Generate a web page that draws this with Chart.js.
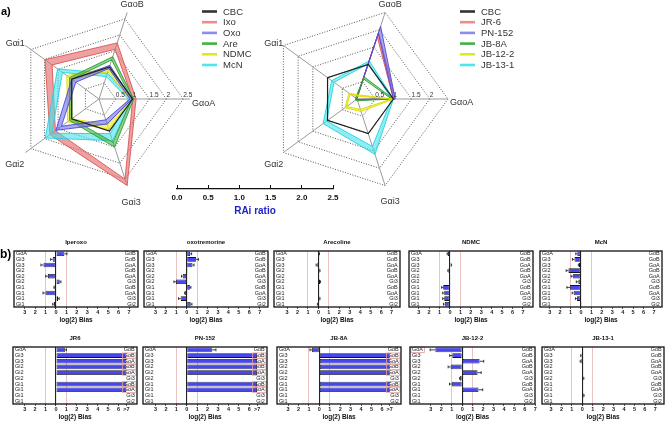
<!DOCTYPE html>
<html><head><meta charset="utf-8">
<script src="https://cdn.jsdelivr.net/npm/chart.js@4.4.1/dist/chart.umd.min.js"></script>
<style>
html,body{margin:0;padding:0;background:#fff;}
#wrap{position:relative;width:669px;height:423px;overflow:hidden;}
canvas{position:absolute;}
</style></head><body><div id="wrap"></div>
<script>
// ---------- DATA ----------
// radar axes, clockwise from the right-hand axis
const radarAxes = ['GαoA', 'Gαi3', 'Gαi2', 'Gαi1', 'GαoB'];
const radar1Ticks = [0.5, 1, 1.5, 2, 2.5];
const radar2Ticks = [0.5, 1, 1.5, 2];

const cbc = [1, 1, 1, 1, 1];
const ixoLow  = [1.00, 2.50, 1.60, 1.72, 1.55];
const ixoHigh = [1.10, 2.70, 1.80, 1.98, 1.75];
const oxoLow  = [0.92, 0.65, 1.38, 0.85, 0.95];
const oxoHigh = [0.98, 0.78, 1.58, 1.00, 1.05];
const areLow  = [0.97, 1.35, 1.00, 1.00, 1.22];
const areHigh = [1.03, 1.50, 1.08, 1.08, 1.32];
const ndmcLow  = [0.92, 0.80, 1.00, 1.00, 0.85];
const ndmcHigh = [0.98, 0.95, 1.15, 1.18, 0.95];
const mcnLow  = [0.87, 1.08, 1.73, 1.34, 0.70];
const mcnHigh = [0.98, 1.30, 1.97, 1.52, 0.80];

const jr6Low  = [1.00, 0.01, 0.01, 0.01, 1.80];
const jr6High = [1.05, 0.02, 0.02, 0.02, 1.92];
const pn152Low  = [1.00, 0.01, 0.01, 0.01, 1.90];
const pn152High = [1.05, 0.02, 0.02, 0.02, 2.10];
const jb8aLow  = [0.95, 0.02, 0.02, 0.02, 0.58];
const jb8aHigh = [1.00, 0.05, 0.05, 0.05, 0.64];
const jb122Low  = [0.95, 0.30, 0.35, 0.23, 0.08];
const jb122High = [1.00, 0.36, 0.41, 0.27, 0.12];
const jb131Low  = [0.95, 1.37, 1.03, 0.78, 1.02];
const jb131High = [1.00, 1.60, 1.15, 0.86, 1.10];

const raiTicks = [0, 0.5, 1, 1.5, 2, 2.5];

const leftLabels  = ['GoA', 'Gi3', 'Gi3', 'Gi2', 'Gi2', 'Gi2', 'Gi1', 'Gi1', 'Gi1', 'Gi1'];
const rightLabels = ['GoB', 'GoB', 'GoA', 'GoB', 'GoA', 'Gi3', 'GoB', 'GoA', 'Gi3', 'Gi2'];
const biasTicks = [-3, -2, -1, 0, 1, 2, 3, 4, 5, 6, 7];
const biasTickLabels = ['3', '2', '1', '0', '1', '2', '3', '4', '5', '6', '7'];
const satTicks = [-3, -2, -1, 0, 1, 2, 3, 4, 5, 6, 6.75];
const satTickLabels = ['3', '2', '1', '0', '1', '2', '3', '4', '5', '6', '>7'];

const iperoxoBias = [0.80, -0.32, -1.20, -0.03, -0.77, 0.35, -0.15, -1.00, 0.20, -0.22];
const iperoxoErr  = [0.25, 0.20, 0.25, 0.00, 0.22, 0.12, 0.05, 0.25, 0.10, 0.10];
const oxoBias = [0.32, 0.90, 0.55, 0.02, -0.38, -1.03, 0.30, -0.15, -0.58, 0.38];
const oxoErr  = [0.15, 0.22, 0.15, 0.00, 0.12, 0.20, 0.10, 0.05, 0.20, 0.12];
const areBias = [0.05, 0.00, -0.12, 0.10, 0.02, 0.15, 0.00, 0.02, 0.10, -0.05];
const areErr  = [0.05, 0.00, 0.10, 0.05, 0.00, 0.05, 0.00, 0.00, 0.05, 0.05];
const ndmcBias = [-0.22, 0.00, 0.10, -0.15, 0.00, 0.00, -0.65, -0.55, -0.55, -0.50];
const ndmcErr  = [0.05, 0.00, 0.05, 0.05, 0.00, 0.00, 0.15, 0.15, 0.15, 0.12];
const mcnBias = [-0.35, -0.62, -0.20, -1.20, -0.75, -0.25, -1.05, -0.70, -0.38, 0.08];
const mcnErr  = [0.15, 0.20, 0.05, 0.22, 0.20, 0.20, 0.30, 0.15, 0.15, 0.00];
const jr6Bias = [0.85, 6.75, 6.75, 6.75, 6.75, 0, 6.75, 6.75, 0, 0];
const jr6Err  = [0.15, 0, 0, 0, 0, 0, 0, 0, 0, 0];
const pn152Bias = [2.40, 6.75, 6.75, 6.75, 6.75, 0, 6.75, 6.75, 0, 0];
const pn152Err  = [0.40, 0, 0, 0, 0, 0, 0, 0, 0, 0];
const jb8aBias = [-0.70, 6.75, 6.75, 6.75, 6.75, 0, 6.75, 6.75, 0, 0];
const jb8aErr  = [0.20, 0, 0, 0, 0, 0, 0, 0, 0, 0];
const jb122Bias = [-2.57, -0.95, 1.66, -1.10, 1.47, -0.20, -0.97, 1.56, 0.05, 0.05];
const jb122Err  = [0.50, 0.25, 0.40, 0.25, 0.35, 0.05, 0.25, 0.40, 0.00, 0.00];
const jb131Bias = [0.00, -0.10, -0.15, -0.05, 0.00, 0.10, 0.00, 0.00, 0.12, 0.00];
const jb131Err  = [0.00, 0.05, 0.05, 0.00, 0.00, 0.05, 0.00, 0.00, 0.05, 0.00];

// ---------- SETUP ----------
const FONT = '"Liberation Sans", Arial, sans-serif';
Chart.defaults.font.family = FONT;
Chart.defaults.color = '#222';
const wrap = document.getElementById('wrap');
function mkCanvas(x, y, w, h) {
  const c = document.createElement('canvas');
  c.width = w; c.height = h;
  c.style.left = x + 'px'; c.style.top = y + 'px';
  c.style.width = w + 'px'; c.style.height = h + 'px';
  wrap.appendChild(c);
  return c;
}

const COL = {
  black: '#1e1e1e',
  red: ['#dd5555', 'rgba(228,110,110,0.65)'],
  blue: ['#4a4ad8', 'rgba(110,110,235,0.6)'],
  green: ['#2f9f2f', 'rgba(70,175,70,0.6)'],
  yellow: ['#dada00', 'rgba(240,240,50,0.7)'],
  cyan: ['#22d4e0', 'rgba(70,225,235,0.6)']
};

// ---------- RADAR ----------
const radarDeco = {
  id: 'radarDeco',
  afterDraw(chart, args, o) {
    const s = chart.scales.r, ctx = chart.ctx;
    ctx.save();
    ctx.fillStyle = '#333';
    ctx.font = '6.5px ' + FONT;
    ctx.textAlign = 'left'; ctx.textBaseline = 'bottom';
    o.tickLabels.forEach(v => {
      const p = s.getPointPositionForValue(0, v);
      ctx.fillText(String(v), p.x, p.y - 0.5);
    });
    ctx.font = '9px ' + FONT;
    ctx.textBaseline = 'middle';
    chart.data.labels.forEach((lab, i) => {
      const p = s.getPointPosition(i, s.drawingArea);
      const pl = o.labelPlace[i];
      ctx.textAlign = pl[2];
      ctx.fillText(lab, p.x + pl[0], p.y + pl[1]);
    });
    // legend
    ctx.font = '9.5px ' + FONT;
    ctx.textAlign = 'left';
    o.legend.forEach((it, i) => {
      const y = o.legendY + i * o.legendStep;
      ctx.strokeStyle = it.color; ctx.lineWidth = 2.6;
      ctx.beginPath(); ctx.moveTo(o.legendX, y); ctx.lineTo(o.legendX + 15, y); ctx.stroke();
      ctx.fillStyle = '#333';
      ctx.fillText(it.text, o.legendX + 21, y + 0.5);
    });
    if (o.tag) {
      ctx.font = 'bold 11px ' + FONT; ctx.fillStyle = '#000';
      ctx.textAlign = 'left'; ctx.textBaseline = 'alphabetic';
      ctx.fillText(o.tag, o.tagX, o.tagY);
    }
    ctx.restore();
  }
};

function band(label, low, high, col, order) {
  return [
    {label: label + ' low', data: low, borderColor: col[0], borderWidth: 0.9, fill: false, pointRadius: 0, order: order},
    {label: label, data: high, borderColor: col[0], borderWidth: 0.9, backgroundColor: col[1], fill: '-1', pointRadius: 0, order: order}
  ];
}

function makeRadar(cfg) {
  const c = mkCanvas(cfg.x, cfg.y, cfg.w, cfg.h);
  const rings = [0].concat(cfg.rings);
  if (rings[rings.length - 1] !== cfg.max) rings.push(cfg.max);
  new Chart(c, {
    type: 'radar',
    data: {labels: radarAxes, datasets: cfg.datasets},
    options: {
      responsive: false, animation: false, events: [],
      layout: {padding: cfg.padding},
      elements: {line: {tension: 0}},
      plugins: {legend: {display: false}, tooltip: {enabled: false}, radarDeco: cfg.deco},
      scales: {
        r: {
          min: 0, max: cfg.max, startAngle: 90,
          afterBuildTicks: s => { s.ticks = rings.map(v => ({value: v})); },
          ticks: {display: false},
          pointLabels: {display: false},
          grid: {
            color: ctx => (cfg.rings.indexOf(ctx.tick.value) >= 0 ? '#444' : 'rgba(0,0,0,0)'),
            lineWidth: 0.9
          },
          border: {dash: [1, 1.6]},
          angleLines: {color: '#9a9a9a', lineWidth: 1}
        }
      }
    },
    plugins: [radarDeco]
  });
}

makeRadar({
  x: 0, y: 0, w: 260, h: 215, max: 2.7, rings: radar1Ticks,
  padding: {left: 8, top: 8, right: 70, bottom: 25},
  datasets: [{label: 'CBC', data: cbc, borderColor: COL.black, borderWidth: 1.2, fill: false, pointRadius: 0, order: 0}]
    .concat(band('Oxo', oxoLow, oxoHigh, COL.blue, 1))
    .concat(band('NDMC', ndmcLow, ndmcHigh, COL.yellow, 3))
    .concat(band('Are', areLow, areHigh, COL.green, 2))
    .concat(band('McN', mcnLow, mcnHigh, COL.cyan, 4))
    .concat(band('Ixo', ixoLow, ixoHigh, COL.red, 5)),
  deco: {
    tickLabels: radar1Ticks,
    labelPlace: [[2, 4.5, 'left'], [4, 16.5, 'center'], [-1, 12.5, 'right'], [-0.5, -2, 'right'], [5, -8, 'center']],
    legendX: 202, legendY: 11.5, legendStep: 10.7,
    legend: [
      {text: 'CBC', color: '#333'}, {text: 'Ixo', color: '#ee8c8c'}, {text: 'Oxo', color: '#8c8cee'},
      {text: 'Are', color: '#44b044'}, {text: 'NDMC', color: '#e6e620'}, {text: 'McN', color: '#50e4ee'}
    ],
    tag: 'a)', tagX: 1, tagY: 15
  }
});

makeRadar({
  x: 260, y: 0, w: 260, h: 215, max: 2.5, rings: radar2Ticks.concat([2.5]),
  padding: {left: 6, top: 8, right: 72, bottom: 25},
  datasets: [{label: 'CBC', data: cbc, borderColor: COL.black, borderWidth: 1.2, fill: false, pointRadius: 0, order: 0}]
    .concat(band('JB-12-2', jb122Low, jb122High, COL.yellow, 1))
    .concat(band('JB-8A', jb8aLow, jb8aHigh, COL.green, 2))
    .concat(band('PN-152', pn152Low, pn152High, COL.blue, 3))
    .concat(band('JR-6', jr6Low, jr6High, COL.red, 4))
    .concat(band('JB-13-1', jb131Low, jb131High, COL.cyan, 5)),
  deco: {
    tickLabels: radar2Ticks,
    labelPlace: [[2, 4, 'left'], [5, 16, 'center'], [0, 12.5, 'right'], [0, -2, 'right'], [5, -7.5, 'center']],
    legendX: 200, legendY: 11.5, legendStep: 10.7,
    legend: [
      {text: 'CBC', color: '#333'}, {text: 'JR-6', color: '#ee8c8c'}, {text: 'PN-152', color: '#8c8cee'},
      {text: 'JB-8A', color: '#44b044'}, {text: 'JB-12-2', color: '#e6e620'}, {text: 'JB-13-1', color: '#50e4ee'}
    ]
  }
});

// ---------- RAi ratio axis ----------
(function () {
  const c = mkCanvas(150, 170, 200, 50);
  new Chart(c, {
    type: 'scatter',
    data: {datasets: []},
    options: {
      responsive: false, animation: false, events: [],
      layout: {padding: {left: 27, right: 17, top: 15, bottom: 1}},
      plugins: {legend: {display: false}, tooltip: {enabled: false}},
      scales: {
        x: {
          type: 'linear', min: 0, max: 2.5,
          afterBuildTicks: s => { s.ticks = raiTicks.map(v => ({value: v})); },
          ticks: {callback: v => v.toFixed(1), font: {size: 8, weight: 'bold'}, color: '#111', padding: 4, maxRotation: 0, autoSkip: false},
          grid: {drawOnChartArea: true, drawTicks: false, color: '#111', lineWidth: 1},
          border: {display: true, color: '#111', width: 1.3},
          title: {display: true, text: 'RAi ratio', color: '#2323c8', font: {size: 10, weight: 'bold'}, padding: {top: 2, bottom: 2}},
          afterFit: s => { s.height = 30; }
        },
        y: {display: false, min: 0, max: 1}
      }
    }
  });
})();

// ---------- BIAS BAR PANELS ----------
const biasDeco = {
  id: 'biasDeco',
  afterDraw(chart, args, o) {
    const {ctx, chartArea: a, scales} = chart;
    const x = scales.x, y = scales.y;
    const vals = chart.data.datasets[0].data;
    ctx.save();
    // error bars
    ctx.strokeStyle = '#111'; ctx.lineWidth = 0.8;
    vals.forEach((v, i) => {
      const e = o.errors[i];
      if (!e) return;
      const yc = y.getPixelForValue(i);
      const x0 = x.getPixelForValue(v);
      const x1 = x.getPixelForValue(v + (v >= 0 ? e : -e));
      ctx.beginPath(); ctx.moveTo(x0, yc); ctx.lineTo(x1, yc);
      ctx.moveTo(x1, yc - 1.4); ctx.lineTo(x1, yc + 1.4); ctx.stroke();
    });
    // pink label boxes
    ctx.strokeStyle = '#e4a0a0'; ctx.lineWidth = 0.8;
    ctx.font = '5.5px ' + FONT;
    (o.pinkRight || []).forEach(i => {
      const yc = y.getPixelForValue(i);
      const w = ctx.measureText(rightLabels[i]).width;
      ctx.strokeRect(a.right - w - 3.5, yc - 2.6, w + 2.4, 5.2);
    });
    (o.pinkLeft || []).forEach(i => {
      const yc = y.getPixelForValue(i);
      const w = ctx.measureText(leftLabels[i]).width;
      ctx.strokeRect(a.left + 1, yc - 2.6, w + 2.4, 5.2);
    });
    // frame
    ctx.strokeStyle = '#111'; ctx.lineWidth = 1.3;
    ctx.strokeRect(a.left, a.top, a.right - a.left, a.bottom - a.top);
    // title
    ctx.fillStyle = '#111';
    ctx.font = 'bold 6px ' + FONT;
    ctx.textAlign = 'center'; ctx.textBaseline = 'middle';
    ctx.fillText(o.title, (a.left + a.right) / 2, a.top - 8.5);
    if (o.tag) {
      ctx.font = 'bold 12px ' + FONT; ctx.fillStyle = '#000';
      ctx.textAlign = 'left'; ctx.textBaseline = 'alphabetic';
      ctx.fillText(o.tag, o.tagX, o.tagY);
    }
    ctx.restore();
  }
};

const PANELS = [
  {title: 'Iperoxo', values: iperoxoBias, errors: iperoxoErr, box: [14, 251, 124, 56], min: -4.03, max: 7.86, sat: false, tag: 'b)'},
  {title: 'oxotremorine', values: oxoBias, errors: oxoErr, box: [144, 251, 124, 56], min: -4.1, max: 7.8, sat: false},
  {title: 'Arecoline', values: areBias, errors: areErr, box: [274, 251, 126, 56], min: -4.25, max: 7.8, sat: false},
  {title: 'NDMC', values: ndmcBias, errors: ndmcErr, box: [409, 251, 124, 56], min: -3.93, max: 7.96, sat: false},
  {title: 'McN', values: mcnBias, errors: mcnErr, box: [540, 251, 122, 56], min: -3.93, max: 7.77, sat: false},
  {title: 'JR6', values: jr6Bias, errors: jr6Err, box: [13, 347, 124, 57], min: -4.12, max: 7.77, sat: true, pinkRight: [1, 2, 3, 4, 6, 7]},
  {title: 'PN-152', values: pn152Bias, errors: pn152Err, box: [143, 347, 124, 57], min: -4.2, max: 7.7, sat: true, pinkRight: [1, 2, 3, 4, 6, 7]},
  {title: 'JB-8A', values: jb8aBias, errors: jb8aErr, box: [277, 347, 124, 57], min: -4.06, max: 7.83, sat: true, pinkRight: [1, 2, 3, 4, 6, 7]},
  {title: 'JB-12-2', values: jb122Bias, errors: jb122Err, box: [410, 347, 125, 57], min: -5.0, max: 6.97, sat: false, pinkLeft: [0]},
  {title: 'JB-13-1', values: jb131Bias, errors: jb131Err, box: [542, 347, 122, 57], min: -3.86, max: 7.83, sat: false}
];

PANELS.forEach(p => {
  const [bx, by, bw, bh] = p.box;
  const padL = Math.min(p.tag ? bx : 6, bx), padR = 5, padT = 14, axisH = 17, padB = 1;
  const c = mkCanvas(bx - padL, by - padT, bw + padL + padR, padT + bh + axisH + padB);
  const tv = p.sat ? satTicks : biasTicks;
  const tl = p.sat ? satTickLabels : biasTickLabels;
  new Chart(c, {
    type: 'bar',
    data: {labels: leftLabels, datasets: [{data: p.values, backgroundColor: '#4747ec', borderColor: '#151515', borderWidth: 0.8, borderSkipped: false, barPercentage: 0.82, categoryPercentage: 1}]},
    options: {
      indexAxis: 'y', responsive: false, animation: false, events: [],
      layout: {padding: {left: padL, right: padR, top: padT, bottom: padB}},
      plugins: {
        legend: {display: false}, tooltip: {enabled: false},
        biasDeco: {title: p.title, errors: p.errors, pinkRight: p.pinkRight, pinkLeft: p.pinkLeft, tag: p.tag, tagX: 0, tagY: 21}
      },
      scales: {
        x: {
          type: 'linear', min: p.min, max: p.max,
          afterBuildTicks: s => { s.ticks = tv.map(v => ({value: v})); },
          ticks: {callback: (v, i) => tl[i], font: {size: 5.5, weight: 'bold'}, color: '#222', padding: 0, maxRotation: 0, autoSkip: false},
          grid: {
            drawOnChartArea: true, tickLength: 2, tickColor: '#333',
            color: ctx => (ctx.tick.value === 0 ? '#222' : (Math.abs(ctx.tick.value) === 1 ? '#e6b2b2' : 'rgba(0,0,0,0)')),
            lineWidth: ctx => (ctx.tick.value === 0 ? 1.1 : 0.8)
          },
          border: {display: false},
          title: {display: true, text: 'log(2) Bias', font: {size: 6.5, weight: 'bold'}, color: '#111', padding: {top: 0, bottom: 0}},
          afterFit: s => { s.height = axisH; }
        },
        y: {
          type: 'category', position: 'left', offset: true,
          grid: {display: false, drawTicks: false}, border: {display: false},
          ticks: {mirror: true, padding: 2, font: {size: 5.5}, color: '#222', autoSkip: false},
          afterFit: s => { s.width = 0; }
        },
        y2: {
          type: 'category', labels: rightLabels, position: 'right', offset: true,
          grid: {display: false, drawTicks: false}, border: {display: false},
          ticks: {mirror: true, padding: -2.3, font: {size: 5.5}, color: '#222', autoSkip: false},
          afterFit: s => { s.width = 0; }
        }
      }
    },
    plugins: [biasDeco]
  });
});
</script>
</body></html>
